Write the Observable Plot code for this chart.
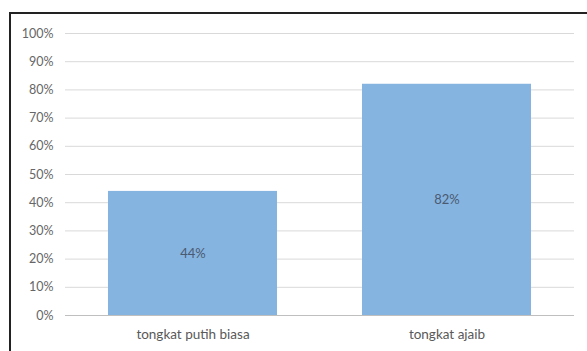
<!DOCTYPE html>
<html>
<head>
<meta charset="utf-8">
<script src="https://cdn.jsdelivr.net/npm/d3@7"></script>
<script src="https://cdn.jsdelivr.net/npm/@observablehq/plot@0.6"></script>
<style>
  html, body { margin: 0; padding: 0; background: #fff; width: 587px; height: 351px; overflow: hidden; }
  #frame { position: absolute; left: 9px; top: 12px; width: 700px; height: 400px; border-left: 2px solid #222; border-top: 2px solid #222; box-sizing: border-box; }
  #chart { position: absolute; left: 0; top: 0; }
</style>
</head>
<body>
<div id="frame"></div>
<div id="chart"></div>
<script>
const categories = ["tongkat putih biasa", "tongkat ajaib"];
const values = [0.44, 0.82];
const yTicks = [0, 0.1, 0.2, 0.3, 0.4, 0.5, 0.6, 0.7, 0.8, 0.9, 1.0];

const data = categories.map((c, i) => ({category: c, value: values[i]}));

const chart = Plot.plot({
  width: 587,
  height: 351,
  marginLeft: 65,
  marginRight: 13,
  marginTop: 33,
  marginBottom: 36,
  style: {fontFamily: "Lato, 'Open Sans', sans-serif", background: "transparent"},
  x: {domain: categories, paddingInner: 0.336, paddingOuter: 0.168, label: null, tickSize: 0, tickPadding: 14},
  y: {domain: [0, 1], ticks: yTicks, tickFormat: d => Math.round(d * 100) + "%", label: null, tickSize: 0, tickPadding: 12},
  marks: [
    Plot.ruleY(yTicks.filter(d => d > 0), {stroke: "#d9d9d9", strokeWidth: 1, strokeOpacity: 1}),
    Plot.barY(data, {x: "category", y: "value", fill: "#86b4e1"}),
    Plot.ruleY([0], {stroke: "#bfbfbf", strokeWidth: 1}),
    Plot.text(data, {x: "category", y: d => d.value / 2, text: d => Math.round(d.value * 100) + "%", fill: "#4a5a70", fontSize: 13}),
    Plot.axisY({ticks: yTicks, tickFormat: d => Math.round(d * 100) + "%", tickSize: 0, tickPadding: 12, fontSize: 12.5, color: "#666", label: null}),
    Plot.axisX({tickSize: 0, tickPadding: 14, fontSize: 13.5, color: "#595959", label: null})
  ]
});
document.getElementById("chart").appendChild(chart);
</script>
</body>
</html>
